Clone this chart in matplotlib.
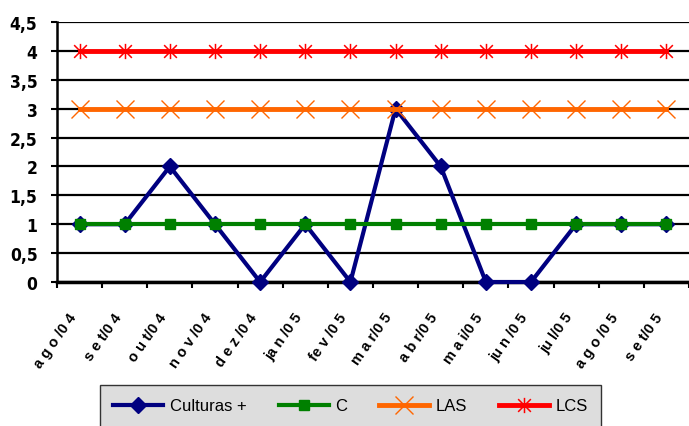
import matplotlib
matplotlib.use('Agg')
import matplotlib.pyplot as plt
from matplotlib import font_manager as fm
from matplotlib.path import Path
from matplotlib.ticker import FixedLocator, NullFormatter

# Data
months = ['a g o /0 4', 's e t/0 4', 'o u t/0 4', 'n o v /0 4', 'd e z /0 4',
          'ja n /0 5', 'fe v /0 5', 'm a r/0 5', 'a b r/0 5', 'm a i/0 5',
          'ju n /0 5', 'ju l/0 5', 'a g o /0 5', 's e t/0 5']
culturas = [1, 1, 2, 1, 0, 1, 0, 3, 2, 0, 0, 1, 1, 1]
c_line = [1] * 14
las = [3] * 14
lcs = [4] * 14
y_ticks = [0, 0.5, 1, 1.5, 2, 2.5, 3, 3.5, 4, 4.5]
y_labels = ['0', '0,5', '1', '1,5', '2', '2,5', '3', '3,5', '4', '4,5']

plt.rcParams['font.family'] = ['Liberation Sans', 'DejaVu Sans']


def narrow_font():
    # look for a narrow / condensed bold face, else plain Liberation Sans
    for fam in ['Liberation Sans Narrow', 'DejaVu Sans']:
        try:
            path = fm.findfont(fm.FontProperties(family=fam, weight='bold', stretch='condensed'),
                               fallback_to_default=False)
        except ValueError:
            continue
        if 'Narrow' in path or 'Condensed' in path:
            return fm.FontProperties(fname=path, size=12.5)
    return fm.FontProperties(family='Liberation Sans', weight='bold', size=11)


ytick_font = narrow_font()

# asterisk marker: x plus vertical bar
star = Path([(-1, -1), (1, 1), (-1, 1), (1, -1), (0, -1.2), (0, 1.2)],
            [Path.MOVETO, Path.LINETO, Path.MOVETO, Path.LINETO, Path.MOVETO, Path.LINETO])

fig = plt.figure(figsize=(6.89, 4.27), dpi=100)
ax = fig.add_axes([57 / 689, 1 - 283 / 427, 1 - 57 / 689, (283 - 23) / 427])

x = list(range(len(months)))
ax.plot(x, culturas, color='#000080', lw=3, marker='D', ms=8, clip_on=False, zorder=3, label='Culturas +')
ax.plot(x, c_line, color='#008000', lw=3, marker='s', ms=7, clip_on=False, zorder=4, label='C')
ax.plot(x, las, color='#FF6600', lw=3.5, marker='x', ms=13, mew=1, clip_on=False, zorder=5, label='LAS')
ax.plot(x, lcs, color='#FF0000', lw=3.5, marker=star, ms=11, mew=1.1, clip_on=False, zorder=6, label='LCS')

ax.set_xlim(-0.5, len(months) - 0.5)
ax.set_ylim(0, 4.5)

ax.set_yticks(y_ticks)
ax.set_yticklabels(y_labels)
for t in ax.get_yticklabels():
    t.set_fontproperties(ytick_font)
ax.yaxis.grid(True, color='black', lw=1.6)
ax.set_axisbelow(True)

ax.xaxis.set_major_locator(FixedLocator([i - 0.5 for i in range(len(months) + 1)]))
ax.xaxis.set_major_formatter(NullFormatter())
ax.tick_params(axis='x', direction='out', length=4, width=1.5, color='black')
ax.tick_params(axis='y', direction='out', length=4, width=1.5, color='black', pad=10)

for i, m in enumerate(months):
    ax.annotate(m, xy=(i, 0), xycoords='data', xytext=(-12, -28), textcoords='offset pixels',
                rotation=55, ha='right', va='top', rotation_mode='anchor',
                fontweight='bold', fontsize=10.5)

for s in ['top', 'right']:
    ax.spines[s].set_visible(False)
ax.spines['left'].set_linewidth(1.8)
ax.spines['bottom'].set_linewidth(2.5)

leg = fig.legend(loc='upper left', bbox_to_anchor=(100 / 689, 1 - 386 / 427, 501 / 689, 0),
                 bbox_transform=fig.transFigure, mode='expand', ncol=4, fontsize=12,
                 frameon=True, fancybox=False, handlelength=3, handletextpad=0.4,
                 borderaxespad=0, borderpad=0.8)
leg.get_frame().set_facecolor('#DDDDDD')
leg.get_frame().set_edgecolor('#333333')
leg.get_frame().set_linewidth(1)
leg.get_frame().set_alpha(1)

plt.savefig('out.png', dpi=100)
plt.close()
